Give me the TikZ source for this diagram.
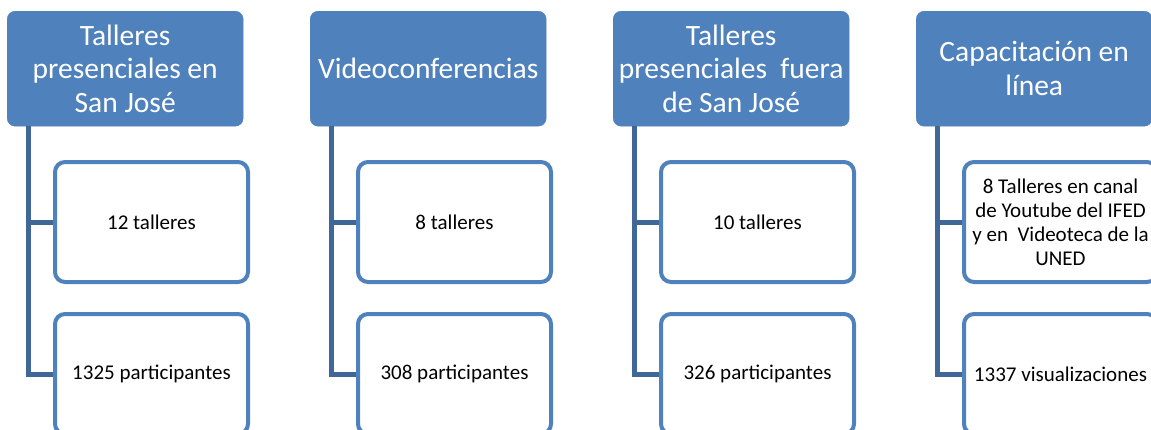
\documentclass[tikz,border=0pt]{standalone}
\usepackage{fontspec}
\setmainfont{Carlito}
\definecolor{hdrblue}{HTML}{4F81BD}
\definecolor{boxblue}{HTML}{4F81BD}
\definecolor{connblue}{HTML}{3F6899}
\tikzset{
  hdr/.style={fill=hdrblue, draw=hdrblue, rounded corners=8pt, minimum width=236pt, minimum height=115pt, inner sep=0pt, anchor=north west, text=white, align=center, font=\fontsize{29.5}{33.5}\selectfont},
  child/.style={draw=boxblue, line width=4pt, fill=white, rounded corners=10pt, minimum width=193pt, minimum height=120pt, inner sep=0pt, anchor=north west, text=black, align=center, font=\fontsize{21}{24}\selectfont},
  conn/.style={draw=connblue, line width=5pt}
}
\begin{document}
\begin{tikzpicture}[x=1pt,y=-1pt]
\useasboundingbox (0,0) rectangle (1151,429);
\clip (0,0) rectangle (1151,429);
% column 1
\node[hdr] (h1) at (7,11) {Talleres\\presenciales en\\San José};
\node[child] (c11) at (53,160) {12 talleres};
\node[child] (c12) at (53,312) {1325 participantes};
% column 2
\node[hdr] (h2) at (310,11) {Videoconferencias};
\node[child] (c21) at (356,160) {8 talleres};
\node[child] (c22) at (356,312) {308 participantes};
% column 3
\node[hdr] (h3) at (613,11) {Talleres\\presenciales\ \ fuera\\de San José};
\node[child] (c31) at (659,160) {10 talleres};
\node[child] (c32) at (659,312) {326 participantes};
% column 4
\node[hdr] (h4) at (916,11) {Capacitación en\\línea};
\node[child] (c41) at (962,160) {8 Talleres en canal\\de Youtube del IFED\\y en\ \ Videoteca de la\\UNED};
\node[child] (c42) at (962,312) {1337 visualizaciones};
% connectors
\foreach \i in {1,2,3,4}{
  \coordinate (s\i) at ([xshift=21pt]h\i.south west);
  \draw[conn] (s\i) |- (c\i2.west);
  \draw[conn] (s\i) |- (c\i1.west);
}
\end{tikzpicture}
\end{document}
